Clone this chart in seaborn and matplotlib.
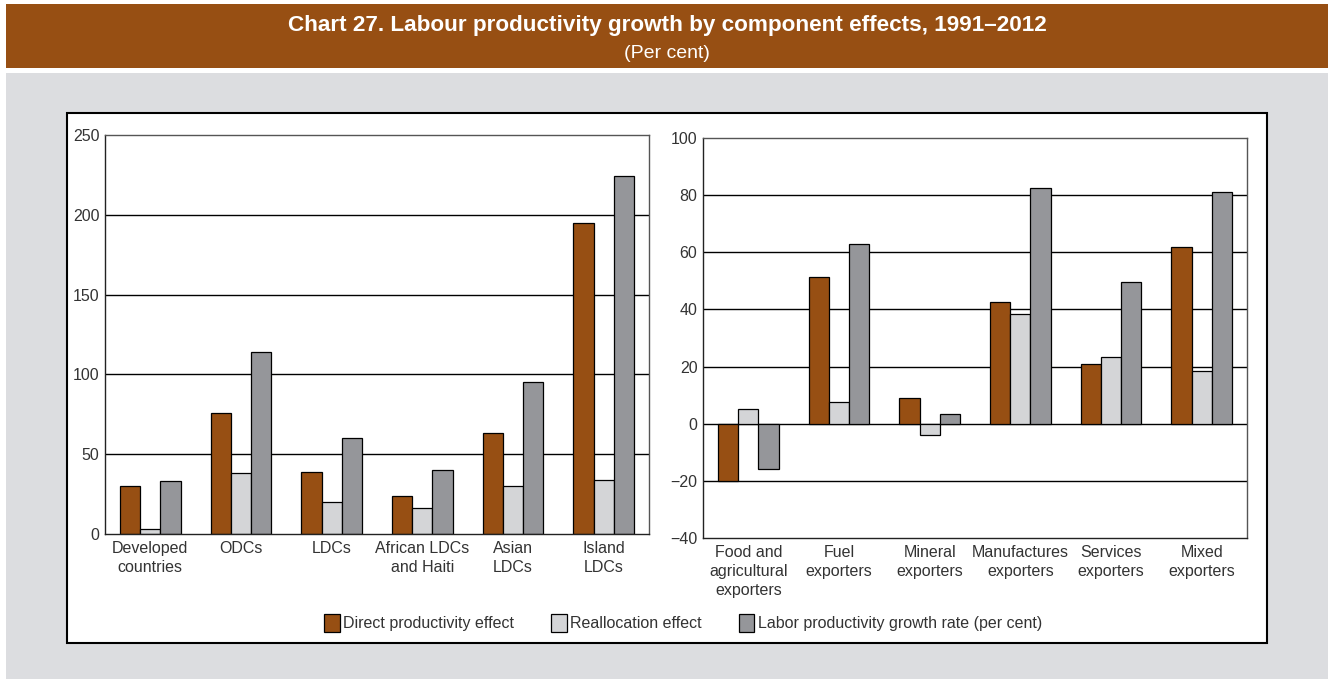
import numpy as np
import pandas as pd
import seaborn as sns
import matplotlib.pyplot as plt
from matplotlib.patches import Rectangle

# --- data ---
components = ['Direct productivity effect', 'Reallocation effect',
              'Labor productivity growth rate (per cent)']

left_groups = ['Developed\ncountries', 'ODCs', 'LDCs', 'African LDCs\nand Haiti',
               'Asian\nLDCs', 'Island\nLDCs']
left_direct = [30, 76, 39, 24, 63, 195]
left_realloc = [3, 38, 20, 16, 30, 34]
left_growth = [33, 114, 60, 40, 95, 224]

right_groups = ['Food and\nagricultural\nexporters', 'Fuel\nexporters', 'Mineral\nexporters',
                'Manufactures\nexporters', 'Services\nexporters', 'Mixed\nexporters']
right_direct = [-20, 51.5, 9, 42.5, 21, 62]
right_realloc = [5, 7.5, -4, 38.5, 23.5, 18.5]
right_growth = [-16, 63, 3.5, 82.5, 49.5, 81]

left_ticks = [0, 50, 100, 150, 200, 250]
right_ticks = [-40, -20, 0, 20, 40, 60, 80, 100]

colors = ['#974f13', '#d4d5d7', '#95969a']
BROWN = '#974f13'
BG = '#dcdde0'
W, H = 1328, 679
FS = 11.5


def to_long(groups, direct, realloc, growth):
    rows = []
    for vals, comp in zip([direct, realloc, growth], components):
        for g, v in zip(groups, vals):
            rows.append({'group': g, 'component': comp, 'value': v})
    return pd.DataFrame(rows)


def style_axes(ax, ticks, groups):
    ax.set_ylim(ticks[0], ticks[-1])
    ax.set_yticks(ticks)
    ax.set_xlim(-0.5, len(groups) - 0.5)
    ax.set_xlabel('')
    ax.set_ylabel('')
    ax.set_axisbelow(True)
    ax.grid(False)
    for t in ticks[1:-1]:
        ax.axhline(t, color='black', lw=1.0, zorder=0.5)
    ax.tick_params(length=0, labelsize=FS, labelcolor='#333333')
    ax.tick_params(axis='y', pad=4)
    ax.tick_params(axis='x', pad=5)
    for lab in ax.get_xticklabels():
        lab.set_linespacing(1.32)
        lab.set_verticalalignment('top')
    for side in ['top', 'right']:
        ax.spines[side].set_color('#555555')
        ax.spines[side].set_linewidth(1.0)
    for side in ['left', 'bottom']:
        ax.spines[side].set_color('#222222')
        ax.spines[side].set_linewidth(1.0)
    ax.set_facecolor('white')


sns.set_theme(style='white')
plt.rcParams['font.family'] = ['Liberation Sans', 'DejaVu Sans']

fig = plt.figure(figsize=(W / 100, H / 100), dpi=100)
fig.patch.set_facecolor('white')

# background blocks
fig.patches.append(Rectangle((6 / W, 0), 1 - 6 / W, 1 - 73 / H, transform=fig.transFigure,
                             facecolor=BG, edgecolor='none', zorder=-3))
fig.patches.append(Rectangle((6 / W, 1 - 68 / H), 1 - 6 / W, 64 / H, transform=fig.transFigure,
                             facecolor=BROWN, edgecolor='none', zorder=-3))
fig.patches.append(Rectangle((67 / W, 1 - 643 / H), 1200 / W, 530 / H, transform=fig.transFigure,
                             facecolor='white', edgecolor='black', lw=1.5, zorder=-2))

fig.text(667 / W, 1 - 25 / H,
         'Chart 27. Labour productivity growth by component effects, 1991\u20132012',
         ha='center', va='center', color='white', fontsize=16.2, fontweight='bold')
fig.text(667 / W, 1 - 54 / H, '(Per cent)', ha='center', va='center', color='white',
         fontsize=14)

ax1 = fig.add_axes([105 / W, 1 - 534 / H, 544 / W, 399 / H])
ax2 = fig.add_axes([703 / W, 1 - 538 / H, 544 / W, 400 / H])

df_left = to_long(left_groups, left_direct, left_realloc, left_growth)
df_right = to_long(right_groups, right_direct, right_realloc, right_growth)

sns.barplot(data=df_left, x='group', y='value', hue='component', palette=colors,
            saturation=1, width=0.67, edgecolor='black', linewidth=0.9, ax=ax1, legend=True)
sns.barplot(data=df_right, x='group', y='value', hue='component', palette=colors,
            saturation=1, width=0.67, edgecolor='black', linewidth=0.9, ax=ax2, legend=False)

handles, labels = ax1.get_legend_handles_labels()
ax1.get_legend().remove()

style_axes(ax1, left_ticks, left_groups)
style_axes(ax2, right_ticks, right_groups)

fig.legend(handles, labels, loc='center', bbox_to_anchor=(683 / W, 1 - 623 / H), ncol=3,
           frameon=False, fontsize=FS, handlelength=1.0, handleheight=1.3,
           handletextpad=0.2, columnspacing=2.3, labelcolor='#333333')

fig.savefig('out.png', dpi=100, facecolor=fig.get_facecolor())
